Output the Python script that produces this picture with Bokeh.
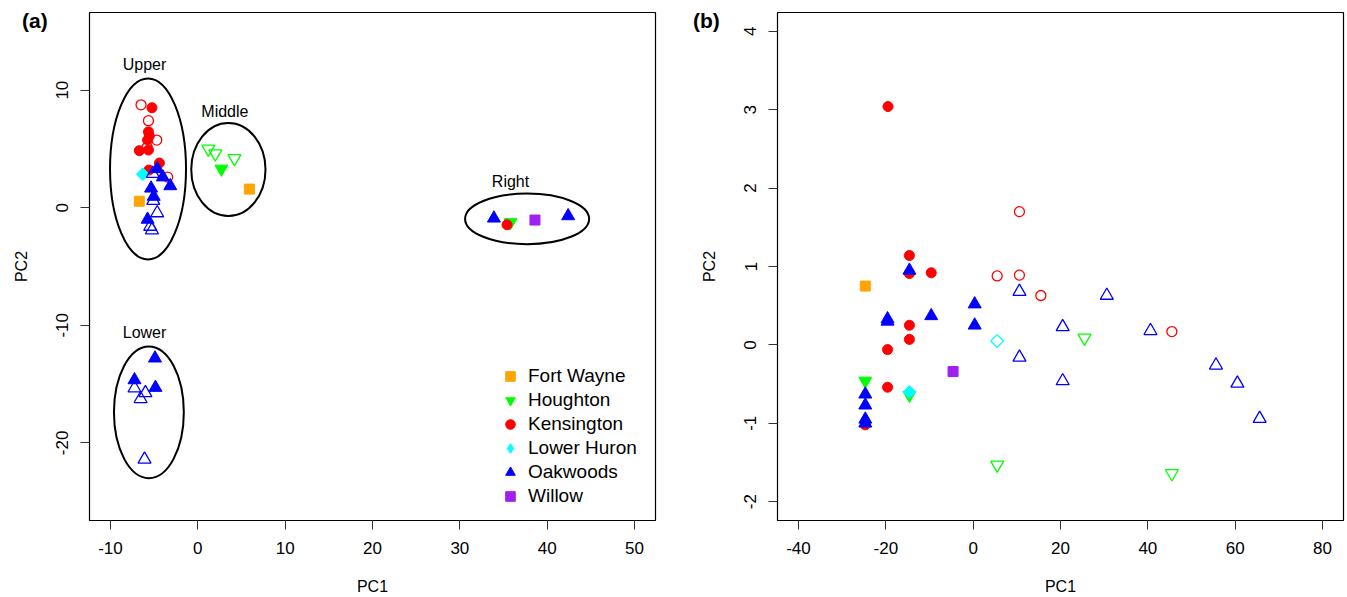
import math
from bokeh.plotting import figure
from bokeh.models import Range1d, FixedTicker, Legend, LegendItem, Div
from bokeh.layouts import row
from bokeh.embed import file_html
from bokeh.resources import INLINE
from bokeh.core.properties import value

FONT = "Liberation Sans"

sites = ["Fort Wayne", "Houghton", "Kensington", "Lower Huron", "Oakwoods", "Willow"]
site_colors = ["#FFA500", "#00FF00", "#FF0000", "#00FFFF", "#0000FF", "#A020F0"]

# ---------------- panel (a) data ----------------
a_fw_x = [-6.7, 5.9]
a_fw_y = [0.55, 1.58]
a_ho_x = [2.7, 35.8]
a_ho_y = [3.3, -1.25]
a_ho_open_x = [1.2, 2.0, 4.2]
a_ho_open_y = [5.0, 4.6, 4.2]
a_ke_x = [-5.25, -5.65, -5.55, -5.75, -6.7, -5.65, -4.4, 35.4, -5.6]
a_ke_y = [8.5, 6.45, 6.1, 5.75, 4.85, 4.9, 3.8, -1.45, 3.2]
a_ke_open_x = [-6.5, -5.65, -4.7, -5.8, -3.45]
a_ke_open_y = [8.75, 7.4, 5.75, 5.15, 2.6]
a_lh_x = [-6.3]
a_lh_y = [2.85]
a_lh_open_x = []
a_lh_open_y = []
a_oa_x = [-4.65, -4.0, -3.15, -5.35, -5.05, -5.75, -4.9, -7.25, -4.85, 33.9, 42.4]
a_oa_y = [3.3, 2.6, 1.85, 1.65, 0.95, -1.0, -12.8, -14.65, -15.3, -0.9, -0.7]
a_oa_open_x = [-5.15, -5.1, -4.65, -5.45, -5.25, -7.25, -6.0, -6.55, -6.1]
a_oa_open_y = [2.9, 0.6, -0.45, -1.6, -1.9, -15.35, -15.75, -16.25, -21.4]
a_wi_x = [38.6]
a_wi_y = [-1.05]

group_names = ["Upper", "Middle", "Lower", "Right"]
group_cx = [-5.7, 3.5, -5.6, 37.7]
group_cy = [3.3, 3.25, -17.4, -0.95]
group_w = [8.7, 8.5, 8.0, 14.2]
group_h = [15.4, 7.9, 11.2, 4.3]
group_label_x = [-6.1, 3.1, -6.1, 35.8]
group_label_y = [12.2, 8.2, -10.6, 2.2]

a_xticks = [-10, 0, 10, 20, 30, 40, 50]
a_yticks = [-20, -10, 0, 10]

# ---------------- panel (b) data ----------------
b_fw_x = [-24.7]
b_fw_y = [0.75]
b_ho_x = [-24.7, -14.6]
b_ho_y = [-0.46, -0.64]
b_ho_open_x = [25.5, 5.5, 45.5]
b_ho_open_y = [0.09, -1.53, -1.64]
b_ke_x = [-19.5, -14.6, -14.6, -9.6, -14.6, -14.6, -19.6, -19.6, -24.7]
b_ke_y = [3.04, 1.14, 0.91, 0.92, 0.25, 0.07, -0.06, -0.54, -1.02]
b_ke_open_x = [5.5, 10.6, 10.6, 15.5, 45.5]
b_ke_open_y = [0.88, 0.89, 1.70, 0.63, 0.17]
b_lh_x = [-14.6]
b_lh_y = [-0.60]
b_lh_open_x = [5.5]
b_lh_open_y = [0.05]
b_oa_x = [-14.6, -19.6, -19.6, -9.6, 0.35, 0.35, -24.7, -24.7, -24.7, -24.7]
b_oa_y = [0.95, 0.33, 0.30, 0.37, 0.52, 0.25, -0.63, -0.77, -0.95, -1.0]
b_oa_open_x = [10.6, 10.6, 20.5, 20.5, 30.6, 40.6, 55.6, 60.5, 65.6]
b_oa_open_y = [0.68, -0.16, 0.23, -0.46, 0.63, 0.18, -0.26, -0.49, -0.94]
b_wi_x = [-4.6]
b_wi_y = [-0.34]

b_xticks = [-40, -20, 0, 20, 40, 60, 80]
b_yticks = [-2, -1, 0, 1, 2, 3, 4]

marker_spec = {
    "Fort Wayne": dict(marker="square", size=10, angle=0.0),
    "Houghton": dict(marker="inverted_triangle", size=13, angle=0.0),
    "Kensington": dict(marker="circle", size=10, angle=0.0),
    "Lower Huron": dict(marker="square", size=9, angle=math.pi / 4),
    "Oakwoods": dict(marker="triangle", size=13, angle=0.0),
    "Willow": dict(marker="square", size=10, angle=0.0),
}
draw_order = ["Houghton", "Kensington", "Fort Wayne", "Lower Huron", "Oakwoods", "Willow"]


def style_axes(p, xticks, yticks):
    p.outline_line_color = "black"
    p.outline_line_width = 1.2
    p.grid.visible = False
    p.background_fill_color = "white"
    p.border_fill_color = "white"
    for ax, ticks in ((p.xaxis[0], xticks), (p.yaxis[0], yticks)):
        ax.ticker = FixedTicker(ticks=ticks)
        ax.major_label_overrides = {t: str(t) for t in ticks}
        ax.axis_line_color = None
        ax.major_tick_out = 9
        ax.major_tick_in = 0
        ax.minor_tick_line_color = None
        ax.major_tick_line_color = "#333333"
        ax.major_label_text_font = FONT
        ax.major_label_text_font_size = "17px"
        ax.major_label_text_color = "black"
        ax.axis_label_text_font = FONT
        ax.axis_label_text_font_size = "16px"
        ax.axis_label_text_font_style = "normal"
        ax.axis_label_text_color = "black"
        ax.major_label_standoff = 12
    p.yaxis[0].major_label_orientation = "vertical"
    p.xaxis[0].axis_label_standoff = 21
    p.yaxis[0].axis_label_standoff = 24


def panel_tag(text, left):
    return Div(text=text, width=40, height=28,
               styles={"position": "absolute", "left": f"{left}px", "top": "6px",
                       "font-family": FONT, "font-size": "21px", "font-weight": "bold",
                       "color": "black", "z-index": "5", "margin": "0"})


def draw_sites(p, data):
    rends = {}
    for site in draw_order:
        color = site_colors[sites.index(site)]
        fx, fy, ox, oy = data[site]
        spec = marker_spec[site]
        r = p.scatter(fx, fy, marker=spec["marker"], size=spec["size"], angle=spec["angle"],
                      fill_color=color, line_color=color, line_width=1)
        if ox:
            p.scatter(ox, oy, marker=spec["marker"], size=spec["size"], angle=spec["angle"],
                      fill_color=None, line_color=color, line_width=1.3)
        rends[site] = r
    return rends


# ---------------- panel (a) ----------------
pa = figure(width=680, height=597, output_backend="svg", toolbar_location=None,
            x_range=Range1d(-12.4, 52.4), y_range=Range1d(-26.6, 16.6),
            min_border_left=89, min_border_right=25, min_border_top=12, min_border_bottom=76,
            x_axis_label="PC1", y_axis_label="PC2")
style_axes(pa, a_xticks, a_yticks)

pa.ellipse(x=group_cx, y=group_cy, width=group_w, height=group_h,
           fill_color=None, line_color="black", line_width=2)
pa.text(x=group_label_x, y=group_label_y, text=group_names, text_align="center",
        text_baseline="middle", text_font=value(FONT), text_font_size="16px", text_color="black")

data_a = {
    "Fort Wayne": (a_fw_x, a_fw_y, [], []),
    "Houghton": (a_ho_x, a_ho_y, a_ho_open_x, a_ho_open_y),
    "Kensington": (a_ke_x, a_ke_y, a_ke_open_x, a_ke_open_y),
    "Lower Huron": (a_lh_x, a_lh_y, a_lh_open_x, a_lh_open_y),
    "Oakwoods": (a_oa_x, a_oa_y, a_oa_open_x, a_oa_open_y),
    "Willow": (a_wi_x, a_wi_y, [], []),
}
rend_a = draw_sites(pa, data_a)
# legend key for Lower Huron: a diamond drawn inside the rotated square (legend keys ignore angle)
rend_a["Lower Huron"] = pa.scatter(a_lh_x, a_lh_y, marker="diamond", size=12,
                                   fill_color="#00FFFF", line_color="#00FFFF")

legend = Legend(items=[LegendItem(label=s, renderers=[rend_a[s]]) for s in sites],
                location=(409, 12), orientation="vertical",
                border_line_color=None, background_fill_alpha=0,
                label_text_font=FONT, label_text_font_size="19px", label_text_color="black",
                glyph_width=24, glyph_height=24, label_height=24,
                spacing=0, padding=0, margin=0, label_standoff=6)
pa.add_layout(legend)

# ---------------- panel (b) ----------------
pb = figure(width=667, height=597, output_backend="svg", toolbar_location=None,
            x_range=Range1d(-44.8, 84.8), y_range=Range1d(-2.24, 4.24),
            min_border_left=97, min_border_right=4, min_border_top=12, min_border_bottom=76,
            x_axis_label="PC1", y_axis_label="PC2")
style_axes(pb, b_xticks, b_yticks)

data_b = {
    "Fort Wayne": (b_fw_x, b_fw_y, [], []),
    "Houghton": (b_ho_x, b_ho_y, b_ho_open_x, b_ho_open_y),
    "Kensington": (b_ke_x, b_ke_y, b_ke_open_x, b_ke_open_y),
    "Lower Huron": (b_lh_x, b_lh_y, b_lh_open_x, b_lh_open_y),
    "Oakwoods": (b_oa_x, b_oa_y, b_oa_open_x, b_oa_open_y),
    "Willow": (b_wi_x, b_wi_y, [], []),
}
draw_sites(pb, data_b)

layout = row(pa, pb, panel_tag("(a)", 22), panel_tag("(b)", 693))
open("out.html", "w").write(file_html(layout, INLINE))
